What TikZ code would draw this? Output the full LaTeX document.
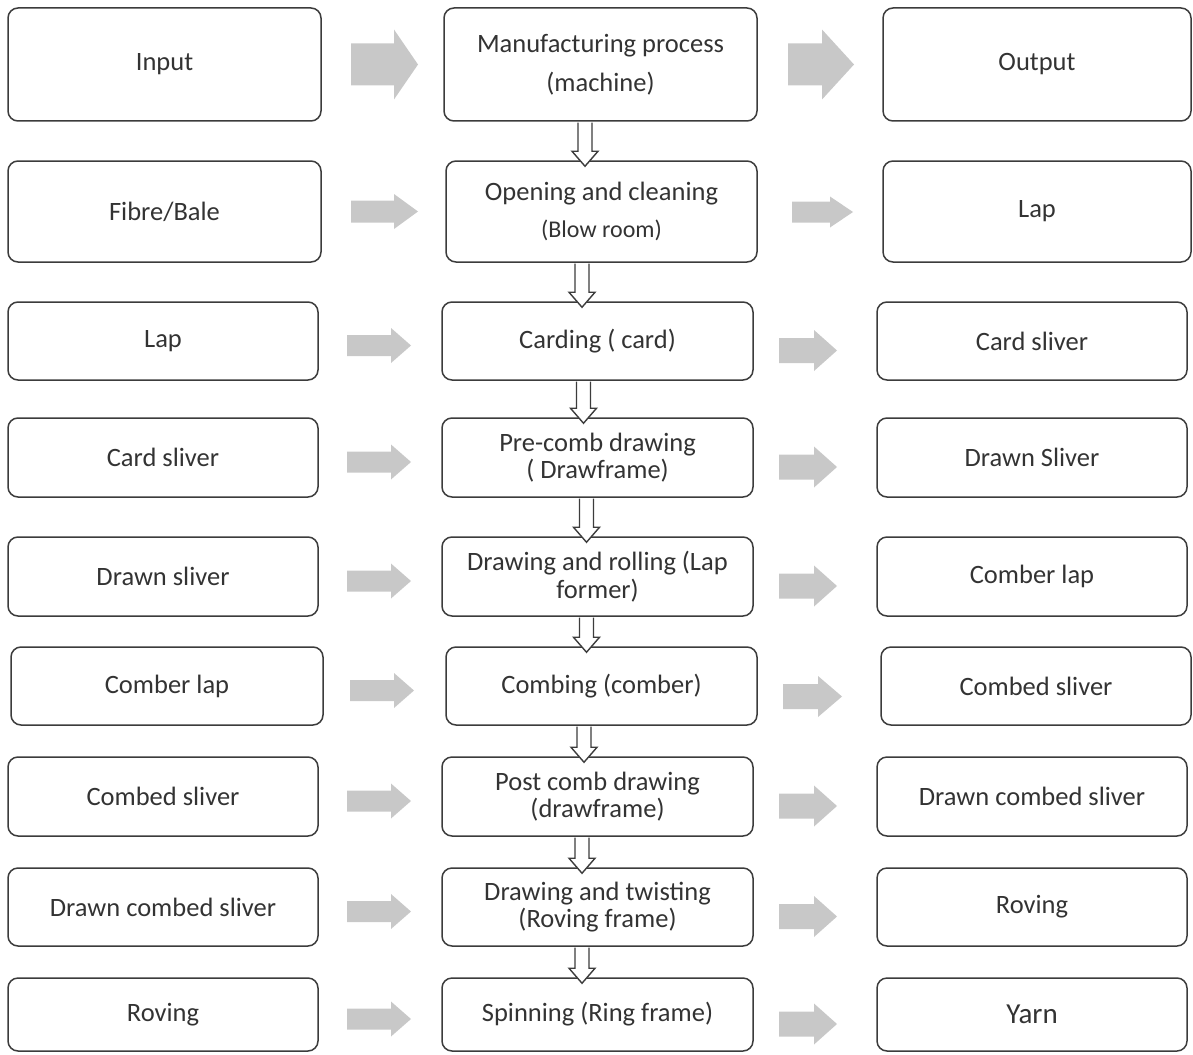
\documentclass[tikz,border=0pt]{standalone}
\usepackage{fontspec}
\setmainfont{Carlito}
\usetikzlibrary{calc}
\definecolor{txt}{HTML}{333333}
\definecolor{bord}{HTML}{3C3C3C}
\definecolor{agray}{HTML}{C8C8C8}
\tikzset{
  box/.style={draw=bord, line width=1.5pt, rounded corners=10pt, text=txt, align=center,
    font=\fontsize{26.5}{27.5}\selectfont, inner sep=2pt},
  hollowarr/.style={draw=bord, line width=1.4pt, fill=white, line join=miter},
  grayarr/.style={fill=agray, draw=none}
}
% gray block arrow: #1 node (for y), #2 x start, #3 x tip, #4 head start, #5 dy (down), #6 shaft half, #7 head half
\newcommand\grarr[7]{\fill[grayarr] let \p1=(#1) in
  (#2pt,{\y1-#5pt+#6pt}) -- (#4pt,{\y1-#5pt+#6pt}) -- (#4pt,{\y1-#5pt+#7pt}) -- (#3pt,{\y1-#5pt})
  -- (#4pt,{\y1-#5pt-#7pt}) -- (#4pt,{\y1-#5pt-#6pt}) -- (#2pt,{\y1-#5pt-#6pt}) -- cycle;}
% hollow down arrow from node #1 to node #2 at x #3
\newcommand\dnarr[3]{\draw[hollowarr] let \p1=(#1.south), \p2=(#2.north) in
  ({#3pt-7pt},{\y1-0.8pt}) -- ({#3pt-7pt},{\y2+9pt}) -- ({#3pt-13pt},{\y2+9pt}) -- (#3pt,{\y2-6pt})
  -- ({#3pt+13pt},{\y2+9pt}) -- ({#3pt+7pt},{\y2+9pt}) -- ({#3pt+7pt},{\y1-0.8pt});}
\begin{document}
\begin{tikzpicture}[x=1pt,y=-1pt]
\useasboundingbox (0,0) rectangle (1193,1054);
% row 1
\node[box, minimum width=313pt, minimum height=113pt] (L1) at (164.5,64.5) {Input};
\node[box, minimum width=313pt, minimum height=113pt] (M1) at (600.5,64.5) {Manufacturing process\\[12pt](machine)};
\node[box, minimum width=308pt, minimum height=113pt] (R1) at (1037,64.5) {Output};
% row 2
\node[box, minimum width=313pt, minimum height=101pt] (L2) at (164.5,211.5) {Fibre/Bale};
\node[box, minimum width=311pt, minimum height=101pt] (M2) at (601.5,211.5) {Opening and cleaning\\[9pt]{\fontsize{24}{25}\selectfont (Blow room)}};
\node[box, minimum width=308pt, minimum height=101pt] (R2) at (1037,211.5) {Lap};
% row 3
\node[box, minimum width=310pt, minimum height=78pt] (L3) at (163,341) {Lap};
\node[box, minimum width=311pt, minimum height=78pt] (M3) at (597.5,341) {Carding ( card)};
\node[box, minimum width=310pt, minimum height=78pt] (R3) at (1032,341) {Card sliver};
% row 4
\node[box, minimum width=310pt, minimum height=79pt] (L4) at (163,457.5) {Card sliver};
\node[box, minimum width=311pt, minimum height=79pt] (M4) at (597.5,457.5) {Pre-comb drawing\\( Drawframe)};
\node[box, minimum width=310pt, minimum height=79pt] (R4) at (1032,457.5) {Drawn Sliver};
% row 5
\node[box, minimum width=310pt, minimum height=79pt] (L5) at (163,576.5) {Drawn sliver};
\node[box, minimum width=311pt, minimum height=79pt] (M5) at (597.5,576.5) {Drawing and rolling (Lap\\former)};
\node[box, minimum width=310pt, minimum height=79pt] (R5) at (1032,576.5) {Comber lap};
% row 6
\node[box, minimum width=312pt, minimum height=78pt] (L6) at (167,686) {Comber lap};
\node[box, minimum width=311pt, minimum height=78pt] (M6) at (601.5,686) {Combing (comber)};
\node[box, minimum width=310pt, minimum height=78pt] (R6) at (1036,686) {Combed sliver};
% row 7
\node[box, minimum width=310pt, minimum height=79pt] (L7) at (163,796.5) {Combed sliver};
\node[box, minimum width=311pt, minimum height=79pt] (M7) at (597.5,796.5) {Post comb drawing\\(drawframe)};
\node[box, minimum width=310pt, minimum height=79pt] (R7) at (1032,796.5) {Drawn combed sliver};
% row 8
\node[box, minimum width=310pt, minimum height=78pt] (L8) at (163,907) {Drawn combed sliver};
\node[box, minimum width=311pt, minimum height=78pt] (M8) at (597.5,907) {Drawing and twisting\\(Roving frame)};
\node[box, minimum width=310pt, minimum height=78pt] (R8) at (1032,907) {Roving};
% row 9
\node[box, minimum width=310pt, minimum height=73pt] (L9) at (163,1014.5) {Roving};
\node[box, minimum width=311pt, minimum height=73pt] (M9) at (597.5,1014.5) {Spinning (Ring frame)};
\node[box, minimum width=310pt, minimum height=73pt, font=\fontsize{29}{30}\selectfont] (R9) at (1032,1014.5) {Yarn};

% gray arrows
\grarr{L1}{351}{418}{394}{0}{21}{35}
\grarr{R1}{788}{854}{822}{0}{21}{35}
\grarr{L2}{351}{418}{394}{0}{11}{17.5}
\grarr{R2}{792}{853}{830}{0.5}{10.5}{15.5}
\foreach \r in {3,4,5,7,8,9}{
  \grarr{L\r}{347}{411}{391}{4.5}{10.5}{17.5}
  \grarr{R\r}{779}{837}{814}{9.5}{12.5}{20.5}
}
\grarr{L6}{350}{414}{394}{4.5}{10.5}{17.5}
\grarr{R6}{783}{842}{818}{10.5}{12.5}{20.5}

% hollow down arrows
\dnarr{M1}{M2}{585}
\dnarr{M2}{M3}{582}
\dnarr{M3}{M4}{583.5}
\dnarr{M4}{M5}{586.5}
\dnarr{M5}{M6}{586.5}
\dnarr{M6}{M7}{584}
\dnarr{M7}{M8}{582}
\dnarr{M8}{M9}{582}
\end{tikzpicture}
\end{document}
